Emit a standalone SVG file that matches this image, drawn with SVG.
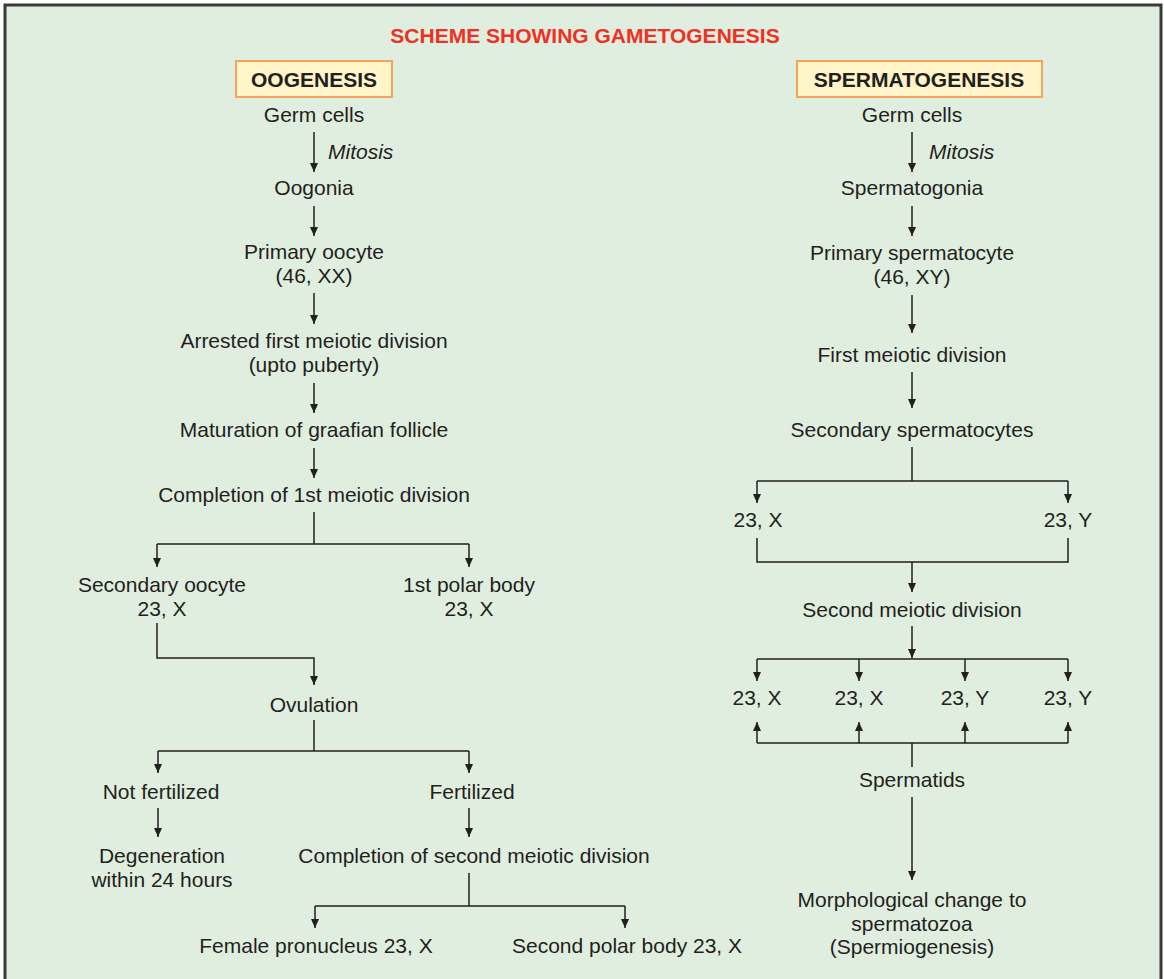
<svg xmlns="http://www.w3.org/2000/svg" width="1164" height="979" viewBox="0 0 1164 979">
<defs>
<style>
.t{font-family:"Liberation Sans",Arial,sans-serif;font-size:21px;fill:#231f20;text-anchor:middle}
.i{font-style:italic;text-anchor:start}
.h{font-family:"Liberation Sans",Arial,sans-serif;font-size:21px;font-weight:bold;fill:#231f20;text-anchor:middle}
.title{font-family:"Liberation Sans",Arial,sans-serif;font-size:21px;font-weight:bold;fill:#ee3124;text-anchor:middle}
.box{fill:#fff5c8;stroke:#f4a45c;stroke-width:2}
.c{fill:none;stroke:#231f20;stroke-width:1.5}
.a{fill:none;stroke:#231f20;stroke-width:1.5;marker-end:url(#arr)}
</style>
<marker id="arr" viewBox="0 0 9 8" refX="9" refY="4" markerWidth="9" markerHeight="8" markerUnits="userSpaceOnUse" orient="auto">
<path d="M0,0 L9,4 L0,8 z" fill="#231f20"/>
</marker>
</defs>
<rect x="0" y="0" width="1164" height="979" fill="#ffffff"/>
<rect x="5" y="5" width="1156" height="990" fill="#dfeedf" stroke="#3a3a3a" stroke-width="3"/>
<text class="title" x="585" y="43">SCHEME SHOWING GAMETOGENESIS</text>

<g id="connectors">
<!-- left -->
<path class="a" d="M314,132 V172"/>
<path class="a" d="M314,206 V236"/>
<path class="a" d="M314,293 V324"/>
<path class="a" d="M314,383 V413"/>
<path class="a" d="M314,448 V478"/>
<path class="c" d="M314,512 V544 M157,544 H469"/>
<path class="a" d="M157,544 V567"/>
<path class="a" d="M469,544 V567"/>
<path class="a" d="M157,623 V658 H314 V685"/>
<path class="c" d="M314,720 V751 M158,751 H469"/>
<path class="a" d="M158,751 V773"/>
<path class="a" d="M469,751 V773"/>
<path class="a" d="M158,808 V837"/>
<path class="a" d="M469,808 V837"/>
<path class="c" d="M469,873 V906 M315,906 H625"/>
<path class="a" d="M315,906 V928"/>
<path class="a" d="M625,906 V928"/>
<!-- right -->
<path class="a" d="M912,132 V172"/>
<path class="a" d="M912,206 V236"/>
<path class="a" d="M912,295 V333"/>
<path class="a" d="M912,372 V408"/>
<path class="c" d="M912,447 V481 M757,481 H1068"/>
<path class="a" d="M757,481 V503"/>
<path class="a" d="M1068,481 V503"/>
<path class="c" d="M757,538 V562 H1068 V538"/>
<path class="a" d="M912,562 V592"/>
<path class="a" d="M912,626 V658"/>
<path class="c" d="M757,659 H1068"/>
<path class="a" d="M757,659 V681"/>
<path class="a" d="M859,659 V681"/>
<path class="a" d="M965,659 V681"/>
<path class="a" d="M1068,659 V681"/>
<path class="c" d="M757,743 H1068 M912,743 V767"/>
<path class="a" d="M757,743 V722"/>
<path class="a" d="M859,743 V722"/>
<path class="a" d="M965,743 V722"/>
<path class="a" d="M1068,743 V722"/>
<path class="a" d="M912,797 V880"/>
</g>

<g id="oogenesis-header"><rect class="box" x="236" y="61" width="156" height="36"/><text class="h" x="314" y="87">OOGENESIS</text></g>
<g id="o-germ"><text class="t" x="314" y="122">Germ cells</text></g>
<g id="o-mitosis"><text class="t i" x="328" y="159">Mitosis</text></g>
<g id="o-oogonia"><text class="t" x="314" y="195">Oogonia</text></g>
<g id="o-primary"><text class="t" x="314" y="259">Primary oocyte</text><text class="t" x="314" y="283">(46, XX)</text></g>
<g id="o-arrested"><text class="t" x="314" y="348">Arrested first meiotic division</text><text class="t" x="314" y="372">(upto puberty)</text></g>
<g id="o-maturation"><text class="t" x="314" y="437">Maturation of graafian follicle</text></g>
<g id="o-completion1"><text class="t" x="314" y="502">Completion of 1st meiotic division</text></g>
<g id="o-secondary"><text class="t" x="162" y="592">Secondary oocyte</text><text class="t" x="162" y="616">23, X</text></g>
<g id="o-polar1"><text class="t" x="469" y="592">1st polar body</text><text class="t" x="469" y="616">23, X</text></g>
<g id="o-ovulation"><text class="t" x="314" y="712">Ovulation</text></g>
<g id="o-notfert"><text class="t" x="161" y="799">Not fertilized</text></g>
<g id="o-fert"><text class="t" x="472" y="799">Fertilized</text></g>
<g id="o-degeneration"><text class="t" x="162" y="863">Degeneration</text><text class="t" x="162" y="887">within 24 hours</text></g>
<g id="o-completion2"><text class="t" x="474" y="863">Completion of second meiotic division</text></g>
<g id="o-female"><text class="t" x="316" y="953">Female pronucleus 23, X</text></g>
<g id="o-polar2"><text class="t" x="627" y="953">Second polar body 23, X</text></g>

<g id="spermatogenesis-header"><rect class="box" x="797" y="61" width="245" height="36"/><text class="h" x="919" y="87">SPERMATOGENESIS</text></g>
<g id="s-germ"><text class="t" x="912" y="122">Germ cells</text></g>
<g id="s-mitosis"><text class="t i" x="929" y="159">Mitosis</text></g>
<g id="s-spermatogonia"><text class="t" x="912" y="195">Spermatogonia</text></g>
<g id="s-primary"><text class="t" x="912" y="260">Primary spermatocyte</text><text class="t" x="912" y="284">(46, XY)</text></g>
<g id="s-first"><text class="t" x="912" y="362">First meiotic division</text></g>
<g id="s-secondary"><text class="t" x="912" y="437">Secondary spermatocytes</text></g>
<g id="s-23x"><text class="t" x="758" y="527">23, X</text></g>
<g id="s-23y"><text class="t" x="1068" y="527">23, Y</text></g>
<g id="s-second"><text class="t" x="912" y="617">Second meiotic division</text></g>
<g id="s-t1"><text class="t" x="757" y="705">23, X</text></g>
<g id="s-t2"><text class="t" x="859" y="705">23, X</text></g>
<g id="s-t3"><text class="t" x="965" y="705">23, Y</text></g>
<g id="s-t4"><text class="t" x="1068" y="705">23, Y</text></g>
<g id="s-spermatids"><text class="t" x="912" y="787">Spermatids</text></g>
<g id="s-morph"><text class="t" x="912" y="907">Morphological change to</text><text class="t" x="912" y="931">spermatozoa</text><text class="t" x="912" y="954">(Spermiogenesis)</text></g>
</svg>
